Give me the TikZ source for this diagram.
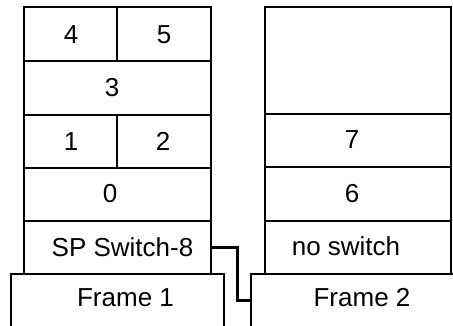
\documentclass[tikz,border=0pt]{standalone}
\usepackage{fontspec}
\setmainfont{Liberation Sans}
\begin{document}
\begin{tikzpicture}[x=1pt,y=-1pt,
  box/.style={line width=2pt},
  wire/.style={line width=3pt},
  lbl/.style={inner sep=0pt,font=\fontsize{26}{30}\selectfont}]
\useasboundingbox (0,0) rectangle (453,325);
\begin{scope}
\clip (0,0) rectangle (453,325);
% frame 1 rack: cells
\draw[box] (24,7) rectangle (211,274);
\draw[box] (24,61) -- (211,61);
\draw[box] (24,115) -- (211,115);
\draw[box] (24,167.5) -- (211,167.5);
\draw[box] (24,221) -- (211,221);
\draw[box] (117,7) -- (117,61);
\draw[box] (117,115) -- (117,167.5);
% frame 2 rack: cells
\draw[box] (265,7) rectangle (451,274);
\draw[box] (265,113.5) -- (451,113.5);
\draw[box] (265,166.5) -- (451,166.5);
\draw[box] (265,220.5) -- (451,220.5);
% frame bases, open at the bottom
\draw[box] (11,330) -- (11,274) -- (224,274) -- (224,330);
\draw[box] (251,330) -- (251,273.5) -- (460,273.5);
\end{scope}
% labels
\node[lbl] (n4) at (71,35) {4};
\node[lbl] (n5) at (164,35) {5};
\node[lbl] (n3) at (112,88) {3};
\node[lbl] (n1) at (71,141.5) {1};
\node[lbl] (n2) at (163,141.5) {2};
\node[lbl] (n0) at (110,194) {0};
\node[lbl] (sw) at (122.5,247.5) {SP Switch-8};
\node[lbl] (f1) at (125.5,298) {Frame 1};
\node[lbl] (n7) at (352,140) {7};
\node[lbl] (n6) at (352,193.5) {6};
\node[lbl] (nosw) at (346,246) {no switch};
\node[lbl] (f2) at (362,298) {Frame 2};
% switch cable to frame 2
\coordinate (swport) at (211,247.5);
\coordinate (f2port) at (251,300);
\draw[wire] (swport) -- (237.5,247.5) -- (237.5,300) -- (f2port);
\end{tikzpicture}
\end{document}
